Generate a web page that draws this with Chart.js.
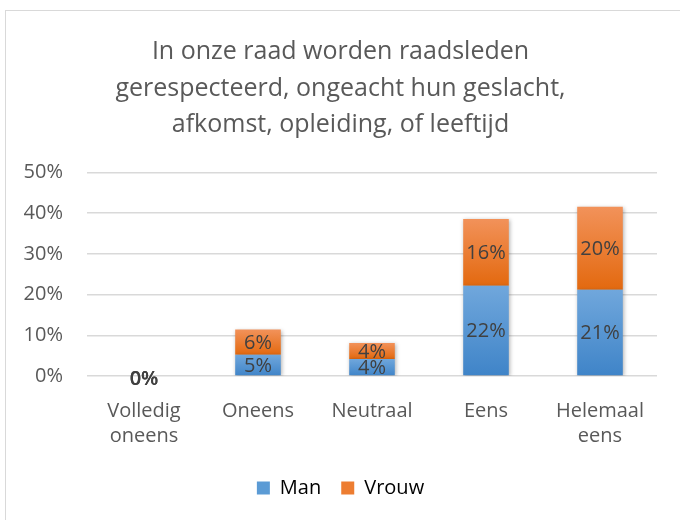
<!DOCTYPE html>
<html>
<head>
<meta charset="utf-8">
<script src="https://cdn.jsdelivr.net/npm/chart.js@4"></script>
<style>
  html, body { margin: 0; padding: 0; background: #fff; overflow: hidden; }
  #wrap { position: relative; width: 680px; height: 520px; }
  #frame { position: absolute; left: 5px; top: 10px; width: 720px; height: 600px; border: 1.5px solid #d9d9d9; }
  canvas { position: absolute; left: 0; top: 0; }
</style>
</head>
<body>
<div id="wrap">
  <div id="frame"></div>
  <canvas id="chart" width="680" height="520"></canvas>
</div>
<script>
// categories and values (percent)
const categories = [['Volledig', 'oneens'], 'Oneens', 'Neutraal', 'Eens', ['Helemaal', 'eens']];
const man = [0, 5.2, 4.2, 22.2, 21.2];
const vrouw = [0, 6.2, 3.9, 16.4, 20.4];
const yTicks = [0, 10, 20, 30, 40, 50];

const FONT = '"Open Sans", sans-serif';
const TEXT = '#595959';

// vertical gradient for each stacked segment
function segGradient(top, bottom) {
  return (ctx) => {
    const chart = ctx.chart;
    if (!chart.chartArea || ctx.type !== 'data') return bottom;
    const y = chart.scales.y;
    let start = 0;
    for (let d = 0; d < ctx.datasetIndex; d++) start += chart.data.datasets[d].data[ctx.dataIndex];
    const end = start + ctx.raw;
    const y0 = y.getPixelForValue(start);
    const y1 = y.getPixelForValue(end);
    if (Math.abs(y0 - y1) < 1) return bottom;
    const g = chart.ctx.createLinearGradient(0, y1, 0, y0);
    g.addColorStop(0, top);
    g.addColorStop(1, bottom);
    return g;
  };
}

const barShadow = {
  id: 'barShadow',
  beforeDatasetsDraw(chart) {
    const c = chart.ctx;
    c.save();
    c.shadowColor = 'rgba(0,0,0,0.3)';
    c.shadowBlur = 4;
    c.shadowOffsetX = 1;
    c.shadowOffsetY = 1;
  },
  afterDatasetsDraw(chart) {
    chart.ctx.restore();
  }
};

const valueLabels = {
  id: 'valueLabels',
  afterDraw(chart) {
    const c = chart.ctx;
    c.save();
    c.fillStyle = '#404040';
    c.textAlign = 'center';
    c.textBaseline = 'middle';
    chart.data.datasets.forEach((ds, i) => {
      chart.getDatasetMeta(i).data.forEach((bar, j) => {
        const v = ds.data[j];
        // zero labels sit on top of each other, which makes them look heavier
        c.font = (v === 0 ? '600 ' : '') + '20px ' + FONT;
        const mid = (bar.y + bar.base) / 2;
        c.fillText(Math.round(v) + '%', bar.x, mid + (v === 0 ? 3 : 1));
      });
    });
    c.restore();
  }
};

new Chart(document.getElementById('chart'), {
  type: 'bar',
  data: {
    labels: categories,
    datasets: [
      { label: 'Man', data: man, backgroundColor: segGradient('#70a7dc', '#3f84c8') },
      { label: 'Vrouw', data: vrouw, backgroundColor: segGradient('#f2925a', '#e3690f') }
    ]
  },
  options: {
    responsive: false,
    animation: false,
    datasets: { bar: { categoryPercentage: 1, barPercentage: 0.4 } },
    layout: { padding: { top: 12, left: 24, right: 23, bottom: 12 } },
    plugins: {
      title: {
        display: true,
        text: ['In onze raad worden raadsleden', 'gerespecteerd, ongeacht hun geslacht,', 'afkomst, opleiding, of leeftijd'],
        color: TEXT,
        font: { family: FONT, size: 25, weight: 'normal', lineHeight: '36.5px' },
        padding: { top: 22, bottom: 29 }
      },
      legend: {
        position: 'bottom',
        labels: {
          color: TEXT,
          font: { family: FONT, size: 20 },
          boxWidth: 13,
          boxHeight: 13,
          padding: 20,
          generateLabels: () => [
            { text: 'Man', fillStyle: '#5b9bd5', strokeStyle: '#5b9bd5', lineWidth: 0, datasetIndex: 0 },
            { text: 'Vrouw', fillStyle: '#ed7d31', strokeStyle: '#ed7d31', lineWidth: 0, datasetIndex: 1 }
          ]
        }
      },
      tooltip: { enabled: false }
    },
    scales: {
      x: {
        stacked: true,
        afterFit: (axis) => { axis.height -= 14; },
        grid: { display: false, drawTicks: false },
        border: { display: false },
        ticks: { color: TEXT, font: { family: FONT, size: 20, lineHeight: '25px' }, padding: 23, maxRotation: 0 }
      },
      y: {
        stacked: true,
        min: 0,
        max: 50,
        afterBuildTicks: (axis) => { axis.ticks = yTicks.map(v => ({ value: v })); },
        afterFit: (axis) => { axis.width = 63; },
        grid: { color: '#d9d9d9', lineWidth: 1.5, drawTicks: false },
        border: { display: false },
        ticks: { color: TEXT, font: { family: FONT, size: 20 }, padding: 24, callback: v => v + '%' }
      }
    }
  },
  plugins: [barShadow, valueLabels]
});
</script>
</body>
</html>
